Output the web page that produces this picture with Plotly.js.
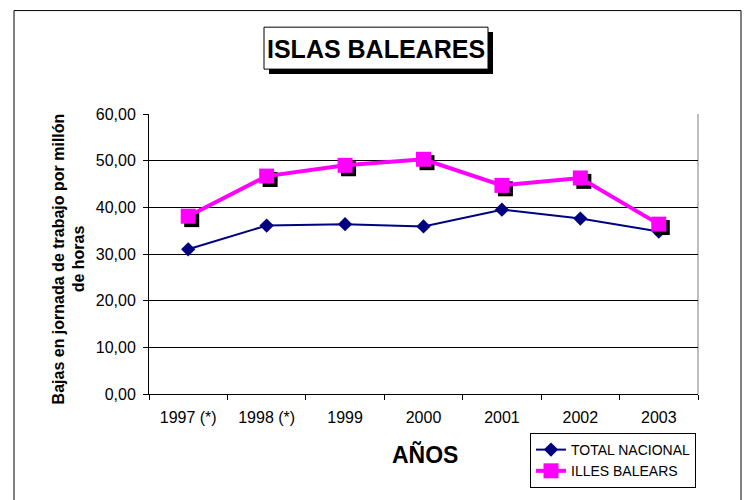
<!DOCTYPE html>
<html>
<head>
<meta charset="utf-8">
<script src="https://cdn.plot.ly/plotly-3.0.1.min.js"></script>
<style>html,body{margin:0;padding:0;background:#fff;}#chart{width:754px;height:500px;}</style>
</head>
<body>
<div id="chart"></div>
<script>
const years = ["1997 (*)", "1998 (*)", "1999", "2000", "2001", "2002", "2003"];
const totalNacional = [31.0, 36.1, 36.4, 35.9, 39.5, 37.6, 34.8];
const illesBalears = [38.1, 46.7, 49.0, 50.3, 44.7, 46.3, 36.4];
const yTicks = [0, 10, 20, 30, 40, 50, 60];

const W = 754, H = 500, L = 149, R = 56, T = 114, B = 99;
const pw = W - L - R, ph = H - T - B;
const fx = px => (px - L) / pw;
const fy = py => (H - B - py) / ph;

// shadow offset in pixels -> axis units
const sdx = 3.5 / (pw / years.length);
const sdy = 3.5 / (ph / 60);

const font = "Liberation Sans, Arial, sans-serif";

const traces = [
  {
    x: years, y: totalNacional, name: "TOTAL NACIONAL", type: "scatter", mode: "lines+markers",
    line: {color: "#000080", width: 2}, marker: {symbol: "diamond", size: 11, color: "#000080"},
    xaxis: "x", yaxis: "y"
  },
  {
    x: years, y: illesBalears, name: "shadow", showlegend: false, type: "scatter", mode: "markers",
    marker: {symbol: "square", size: 15, color: "#000000"}, hoverinfo: "skip",
    xaxis: "x2", yaxis: "y2"
  },
  {
    x: years, y: illesBalears, name: "ILLES BALEARS", type: "scatter", mode: "lines+markers",
    line: {color: "#FF00FF", width: 4}, marker: {symbol: "square", size: 15, color: "#FF00FF"},
    xaxis: "x3", yaxis: "y3"
  }
];

const hiddenX = {type: "category", visible: false, showgrid: false, zeroline: false, fixedrange: true};
const hiddenY = {visible: false, showgrid: false, zeroline: false, fixedrange: true};

const layout = {
  width: W, height: H,
  margin: {l: L, r: R, t: T, b: B, pad: 0},
  paper_bgcolor: "#ffffff", plot_bgcolor: "#ffffff",
  font: {family: font, color: "#000", size: 16},
  showlegend: true,
  legend: {
    x: fx(530), y: fy(441), xanchor: "left", yanchor: "top",
    bordercolor: "#000", borderwidth: 1, bgcolor: "#fff",
    font: {family: font, size: 14, color: "#000"},
    tracegroupgap: 0, itemwidth: 30
  },
  xaxis: {
    type: "category", categoryarray: years, range: [-0.5, years.length - 0.5],
    showline: true, linecolor: "#000", linewidth: 1,
    ticks: "outside", ticklen: 5, tickcolor: "#000", tickson: "boundaries",
    ticklabelstandoff: 9,
    showgrid: false, zeroline: false, tickfont: {size: 16, family: font, color: "#000"},
    fixedrange: true
  },
  yaxis: {
    range: [0, 60], tickvals: yTicks, ticktext: yTicks.map(v => v.toFixed(2).replace(".", ",")),
    showline: true, linecolor: "#000", linewidth: 1,
    ticks: "outside", ticklen: 5, tickcolor: "#000",
    ticklabelstandoff: 4,
    showgrid: true, gridcolor: "#000", gridwidth: 1, zeroline: false,
    tickfont: {size: 16, family: font, color: "#000"}, fixedrange: true
  },
  xaxis2: Object.assign({}, hiddenX, {overlaying: "x", anchor: "y2", categoryarray: years, range: [-0.5 - sdx, years.length - 0.5 - sdx]}),
  yaxis2: Object.assign({}, hiddenY, {overlaying: "y", anchor: "x2", range: [sdy, 60 + sdy]}),
  xaxis3: Object.assign({}, hiddenX, {overlaying: "x", anchor: "y3", categoryarray: years, range: [-0.5, years.length - 0.5]}),
  yaxis3: Object.assign({}, hiddenY, {overlaying: "y", anchor: "x3", range: [0, 60]}),
  shapes: [
    {type: "rect", xref: "paper", yref: "paper", x0: fx(14), x1: fx(741), y0: fy(8), y1: fy(520),
     line: {color: "#000", width: 1}, fillcolor: "rgba(0,0,0,0)", layer: "below"},
    {type: "line", xref: "paper", yref: "paper", x0: 1, x1: 1, y0: 0, y1: 1,
     line: {color: "#808080", width: 1}, layer: "below"},
    {type: "rect", xref: "paper", yref: "paper", x0: fx(269), x1: fx(493), y0: fy(30), y1: fy(73),
     line: {width: 0}, fillcolor: "#000", layer: "above"},
    {type: "rect", xref: "paper", yref: "paper", x0: fx(264), x1: fx(488), y0: fy(25), y1: fy(68),
     line: {color: "#000", width: 1}, fillcolor: "#fff", layer: "above"}
  ],
  annotations: [
    {text: "<b>ISLAS BALEARES</b>", xref: "paper", yref: "paper", x: fx(376), y: fy(47),
     xanchor: "center", yanchor: "middle", showarrow: false,
     font: {family: font, size: 25, color: "#000"}},
    {text: "<b>Bajas en jornada de trabajo por millón<br>de horas</b>", xref: "paper", yref: "paper",
     x: fx(69), y: fy(262), xanchor: "center", yanchor: "middle", showarrow: false, textangle: -90,
     font: {family: font, size: 16, color: "#000"}},
    {text: "<b>AÑOS</b>", xref: "paper", yref: "paper", x: fx(425), y: fy(463),
     xanchor: "center", yanchor: "middle", showarrow: false,
     font: {family: font, size: 23, color: "#000"}}
  ]
};

Plotly.newPlot("chart", traces, layout, {displayModeBar: false, staticPlot: true});
</script>
</body>
</html>
